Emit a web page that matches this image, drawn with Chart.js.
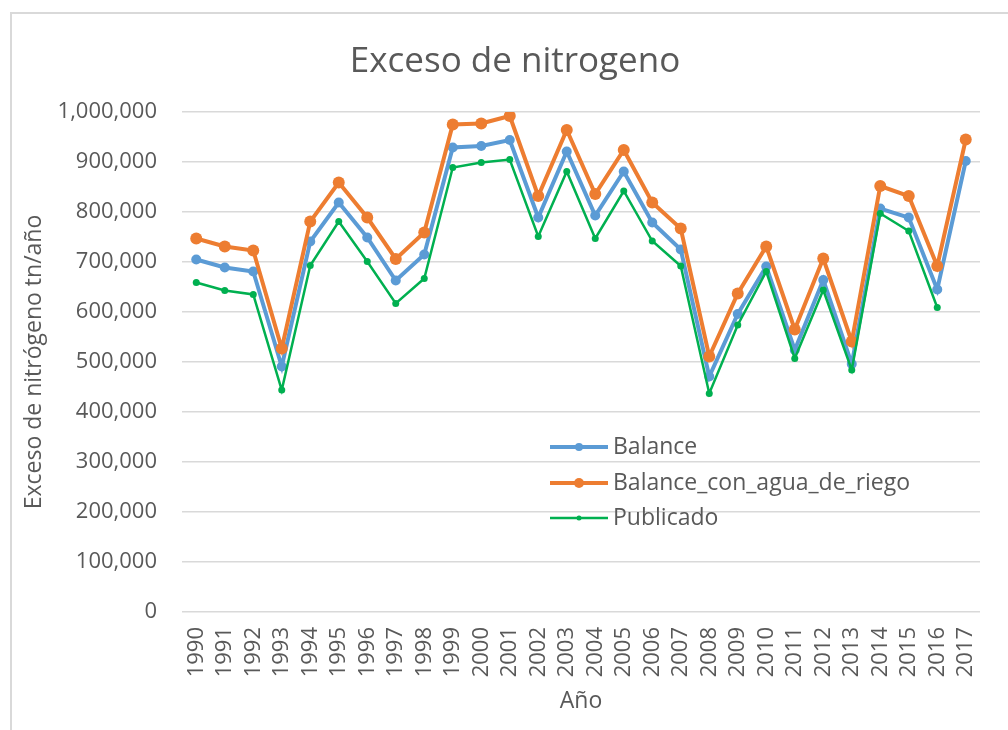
<!DOCTYPE html>
<html>
<head>
<meta charset="utf-8">
<script src="https://cdn.jsdelivr.net/npm/chart.js@4.4.1/dist/chart.umd.min.js"></script>
<style>
    body { margin: 0; background: #fff; }
    #marco { position: absolute; left: 10px; top: 12px; width: 1100px; height: 800px; border: 2px solid #d9d9d9; }
    #contenedor { position: absolute; left: 0; top: 0; width: 1008px; height: 730px; }
</style>
</head>
<body>
<div id="marco"></div>
<div id="contenedor"><canvas id="miGrafico"></canvas></div>
<script>
// Datos del gráfico
const anios = ['1990', '1991', '1992', '1993', '1994', '1995', '1996', '1997', '1998', '1999',
    '2000', '2001', '2002', '2003', '2004', '2005', '2006', '2007', '2008', '2009',
    '2010', '2011', '2012', '2013', '2014', '2015', '2016', '2017'];

const balance = [705000, 689000, 681000, 491000, 741000, 819000, 749000, 663000, 715000, 929000,
    932000, 944000, 789000, 921000, 793000, 881000, 779000, 725000, 471000, 596000,
    691000, 524000, 664000, 496000, 807000, 789000, 645000, 902000];

const balanceRiego = [747000, 731000, 723000, 527000, 781000, 859000, 789000, 706000, 759000, 975000,
    977000, 992000, 832000, 964000, 836000, 924000, 819000, 767000, 511000, 637000,
    731000, 565000, 707000, 541000, 852000, 832000, 692000, 945000];

const publicado = [659000, 643000, 635000, 444000, 693000, 781000, 701000, 617000, 667000, 889000,
    899000, 905000, 751000, 881000, 747000, 842000, 742000, 692000, 437000, 574000,
    681000, 507000, 644000, 484000, 797000, 762000, 609000, null];

const ticksY = [0, 100000, 200000, 300000, 400000, 500000, 600000, 700000, 800000, 900000, 1000000];

const series = [
    { nombre: 'Balance', datos: balance, color: '#5b9bd5', grosor: 4, radio: 5 },
    { nombre: 'Balance_con_agua_de_riego', datos: balanceRiego, color: '#ed7d31', grosor: 4, radio: 6 },
    { nombre: 'Publicado', datos: publicado, color: '#00b050', grosor: 2.5, radio: 3.5 }
];

const gris = '#595959';
const fuente = "'Open Sans', sans-serif";

// Título y leyenda dibujados a mano (la leyenda va dentro del área del gráfico)
const textosExtra = {
    id: 'textosExtra',
    afterDatasetsDraw(chart) {
        const ctx = chart.ctx;
        ctx.save();
        ctx.fillStyle = gris;
        ctx.font = '35px ' + fuente;
        ctx.textAlign = 'center';
        ctx.textBaseline = 'middle';
        ctx.fillText('Exceso de nitrogeno', 515, 62);

        const filas = [447, 483, 518];
        series.forEach(function(s, i) {
            const y = filas[i];
            ctx.strokeStyle = s.color;
            ctx.lineWidth = s.grosor;
            ctx.beginPath();
            ctx.moveTo(550, y);
            ctx.lineTo(608, y);
            ctx.stroke();
            ctx.fillStyle = s.color;
            ctx.beginPath();
            ctx.arc(579, y, s.radio - 1, 0, Math.PI * 2);
            ctx.fill();
            ctx.fillStyle = gris;
            ctx.font = '23px ' + fuente;
            ctx.textBaseline = 'middle';
            ctx.textAlign = 'left';
            ctx.fillText(s.nombre, 613, y);
        });
        ctx.restore();
    }
};

document.addEventListener('DOMContentLoaded', function() {
    const ctx = document.getElementById('miGrafico').getContext('2d');
    new Chart(ctx, {
        type: 'line',
        data: {
            labels: anios,
            datasets: series.map(function(s, i) {
                return {
                    label: s.nombre,
                    data: s.datos,
                    borderColor: s.color,
                    backgroundColor: s.color,
                    borderWidth: s.grosor,
                    pointRadius: s.radio,
                    pointBorderWidth: 0,
                    pointBackgroundColor: s.color,
                    tension: 0,
                    spanGaps: false,
                    order: 2 - i
                };
            })
        },
        options: {
            responsive: true,
            maintainAspectRatio: false,
            animation: false,
            layout: { padding: { left: 0, right: 28, top: 112, bottom: 0 } },
            plugins: {
                legend: { display: false },
                tooltip: { enabled: false },
                title: { display: false }
            },
            scales: {
                x: {
                    offset: true,
                    grid: { display: false, drawTicks: false },
                    border: { display: false },
                    ticks: {
                        color: gris,
                        font: { family: fuente, size: 22 },
                        minRotation: 90,
                        maxRotation: 90,
                        autoSkip: false,
                        padding: 15
                    },
                    title: {
                        display: true,
                        text: 'Año',
                        color: gris,
                        font: { family: fuente, size: 23 },
                        padding: { top: 0, bottom: 15 }
                    },
                    afterFit: function(scale) { scale.height = 118; }
                },
                y: {
                    min: 0,
                    max: 1000000,
                    afterBuildTicks: function(scale) {
                        scale.ticks = ticksY.map(function(v) { return { value: v }; });
                    },
                    grid: { color: '#d9d9d9', lineWidth: 1.5, drawTicks: false },
                    border: { display: false },
                    ticks: {
                        color: gris,
                        font: { family: fuente, size: 22 },
                        padding: 25,
                        callback: function(v) { return v.toLocaleString('en-US'); }
                    },
                    title: {
                        display: true,
                        text: 'Exceso de nitrógeno tn/año',
                        color: gris,
                        font: { family: fuente, size: 23 },
                        padding: { top: 21, bottom: 0 }
                    },
                    afterFit: function(scale) { scale.width = 182; }
                }
            }
        },
        plugins: [textosExtra]
    });
});
</script>
</body>
</html>
